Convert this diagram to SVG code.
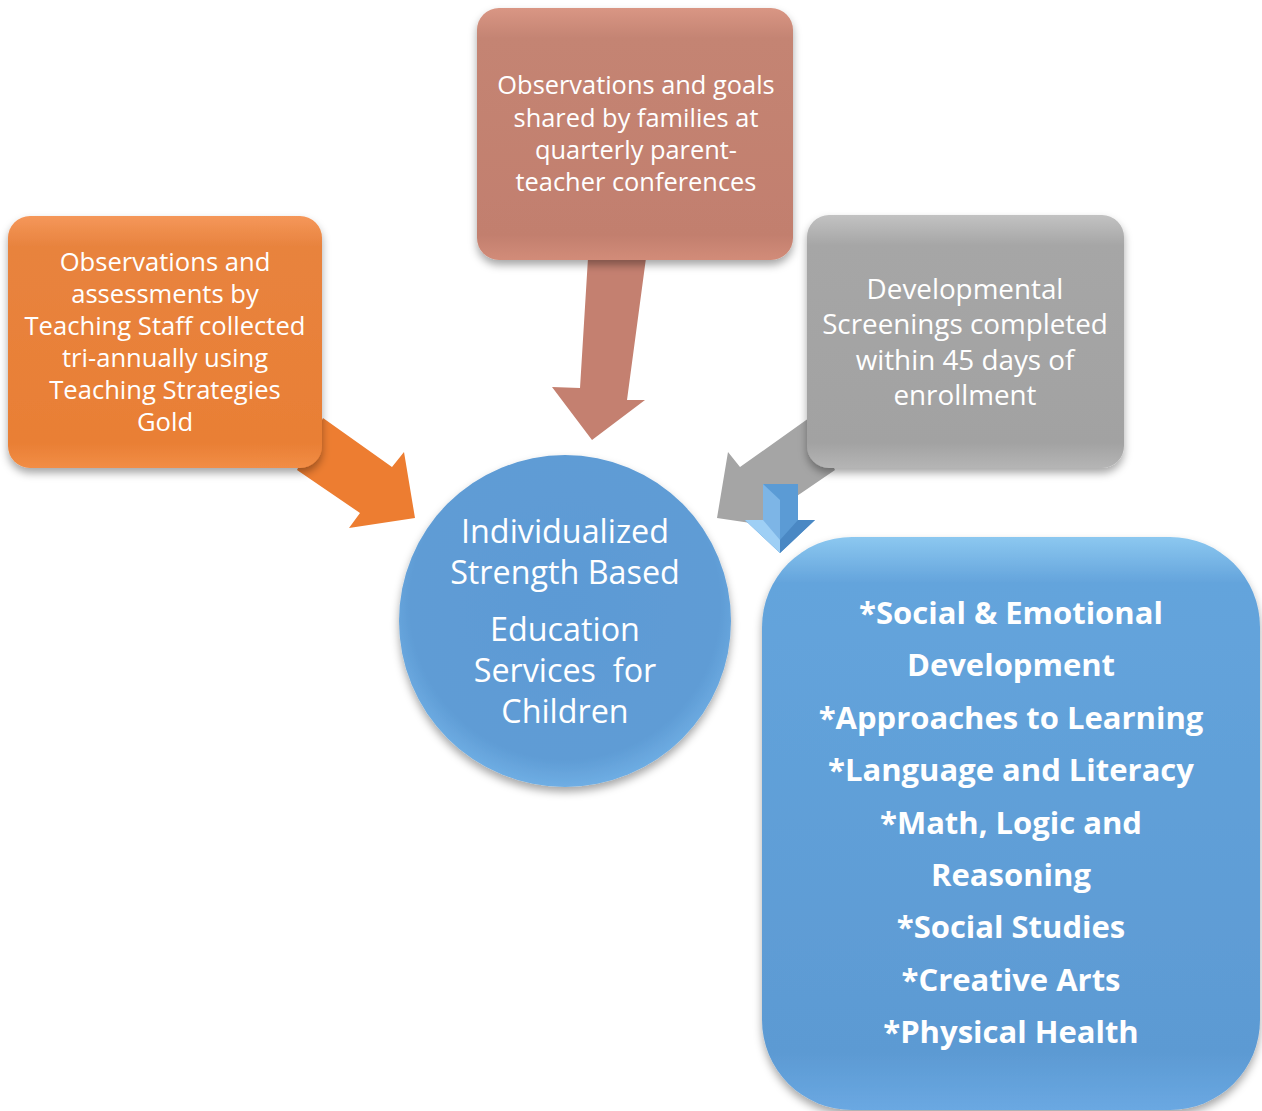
<svg xmlns="http://www.w3.org/2000/svg" width="1262" height="1111" viewBox="0 0 1262 1111">
<defs>
<filter id="sh" x="-10%" y="-10%" width="125%" height="125%">
<feDropShadow dx="0" dy="5" stdDeviation="4" flood-color="#000" flood-opacity="0.35"/>
</filter>
<linearGradient id="gOr" x1="0" y1="0" x2="0" y2="1">
<stop offset="0" stop-color="#F5975A"/><stop offset="0.12" stop-color="#E8833E"/><stop offset="0.9" stop-color="#E97F35"/><stop offset="1" stop-color="#F28D45"/>
</linearGradient>
<linearGradient id="gPk" x1="0" y1="0" x2="0" y2="1">
<stop offset="0" stop-color="#D99684"/><stop offset="0.12" stop-color="#C48473"/><stop offset="0.9" stop-color="#C27F6E"/><stop offset="1" stop-color="#D28C79"/>
</linearGradient>
<linearGradient id="gGr" x1="0" y1="0" x2="0" y2="1">
<stop offset="0" stop-color="#C2C2C2"/><stop offset="0.12" stop-color="#A6A6A6"/><stop offset="0.9" stop-color="#A2A2A2"/><stop offset="1" stop-color="#B5B5B5"/>
</linearGradient>
<linearGradient id="gBl" x1="0" y1="0" x2="0" y2="1">
<stop offset="0" stop-color="#8CC8F0"/><stop offset="0.08" stop-color="#64A4DC"/><stop offset="0.9" stop-color="#5C9AD3"/><stop offset="1" stop-color="#6AA8E2"/>
</linearGradient>
<radialGradient id="gCi" cx="0.5" cy="0.45" r="0.55">
<stop offset="0" stop-color="#5C9AD5"/><stop offset="0.85" stop-color="#5F9CD5"/><stop offset="1" stop-color="#6FAEE4"/>
</radialGradient>
<style>
.t{font-family:"Open Sans","Noto Sans",sans-serif;fill:#fff;text-anchor:middle}
.so{font-size:25.6px}
.sp{font-size:25.4px}
.sg{font-size:27.8px}
.sc{font-size:32.3px;white-space:pre}
.b{font-size:31px;font-weight:bold}
</style>
</defs>
<g id="connectors">
<polygon fill="#ED7D31" points="323,418 392,467 404,452 415,518 349,528 360,513 297,470"/>
<polygon fill="#C48070" points="588,258 646,258 627,400 645,400 592,440 552,387 580,388"/>
<polygon fill="#A5A5A5" points="809,418 740,467 728,452 717,518 783,528 772,513 835,470"/>
</g>
<g id="orange">
<rect x="8" y="216" width="314" height="252" rx="22" fill="url(#gOr)" filter="url(#sh)"/>
<text class="t so"><tspan x="165" y="271">Observations and</tspan><tspan x="165" y="303">assessments by</tspan><tspan x="165" y="335">Teaching Staff collected</tspan><tspan x="165" y="367">tri-annually using</tspan><tspan x="165" y="399">Teaching Strategies</tspan><tspan x="165" y="431">Gold</tspan></text>
</g>
<g id="pink">
<rect x="477" y="8" width="316" height="252" rx="22" fill="url(#gPk)" filter="url(#sh)"/>
<text class="t sp"><tspan x="636" y="94">Observations and goals</tspan><tspan x="636" y="127">shared by families at</tspan><tspan x="636" y="159">quarterly parent-</tspan><tspan x="636" y="191">teacher conferences</tspan></text>
</g>
<g id="gray">
<rect x="807" y="215" width="317" height="253" rx="22" fill="url(#gGr)" filter="url(#sh)"/>
<text class="t sg"><tspan x="965" y="299">Developmental</tspan><tspan x="965" y="334">Screenings completed</tspan><tspan x="965" y="370">within 45 days of</tspan><tspan x="965" y="405">enrollment</tspan></text>
</g>
<g id="center">
<circle cx="565" cy="621" r="166" fill="url(#gCi)" filter="url(#sh)"/>
<text class="t sc"><tspan x="565" y="543">Individualized</tspan><tspan x="565" y="584">Strength Based</tspan><tspan x="565" y="641">Education</tspan><tspan x="565" y="682">Services  for</tspan><tspan x="565" y="723">Children</tspan></text>
</g>
<g id="downarrow">
<polygon fill="#5B9BD5" points="763,484 798,484 798,520 815,520 780,553 745,520 763,520"/>
<polygon fill="#7DB5E6" points="763,484 780,500 780,553 745,520 763,520"/>
<polygon fill="#9ECFF5" points="745,520 763,520 780,540 780,553"/>
<polygon fill="#4A88C4" points="815,520 798,520 780,540 780,553"/>
</g>
<g id="domains">
<rect x="762" y="537" width="498" height="573" rx="90" fill="url(#gBl)" filter="url(#sh)"/>
<text class="t b"><tspan x="1011" y="624">*Social &amp; Emotional</tspan><tspan x="1011" y="676">Development</tspan><tspan x="1011" y="729">*Approaches to Learning</tspan><tspan x="1011" y="781">*Language and Literacy</tspan><tspan x="1011" y="834">*Math, Logic and</tspan><tspan x="1011" y="886">Reasoning</tspan><tspan x="1011" y="938">*Social Studies</tspan><tspan x="1011" y="991">*Creative Arts</tspan><tspan x="1011" y="1043">*Physical Health</tspan></text>
</g>
</svg>
